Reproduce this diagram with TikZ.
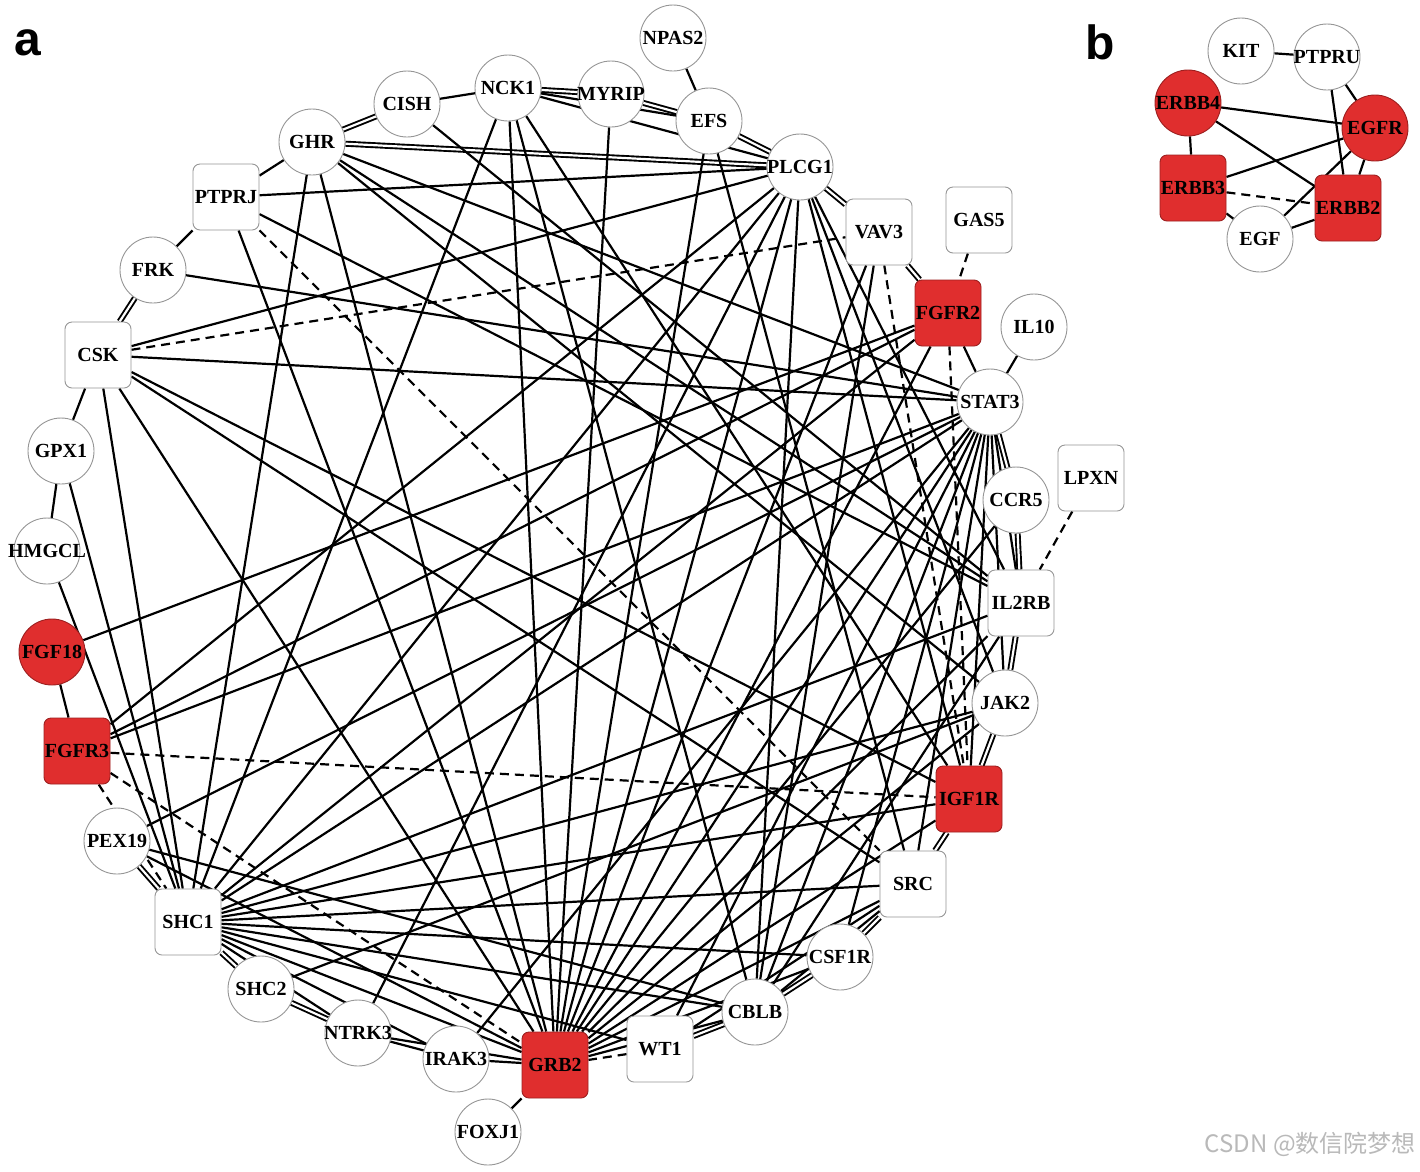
\documentclass[tikz,border=0pt]{standalone}
\usepackage{fontspec}
\setmainfont{Liberation Serif}
\newfontfamily\labfont{Liberation Sans}
\newfontfamily\cjkfont{Noto Sans CJK SC}
\usetikzlibrary{backgrounds}
\pgfdeclarelayer{paper}
\pgfdeclarelayer{edges}
\pgfsetlayers{paper,edges,main}
\definecolor{nodered}{RGB}{224,46,46}
\definecolor{nodeedge}{RGB}{150,150,150}
\newcommand\glab[1]{\hbox to 0pt{\hss#1\hss}}
\tikzset{
  gene/.style={font=\bfseries\fontsize{20}{20}\selectfont, inner sep=0pt, minimum size=66pt, draw=nodeedge, line width=0.9pt, fill=white, text=black},
  circ/.style={gene, circle},
  box/.style={gene, rectangle, rounded corners=7pt},
  redc/.style={circ, fill=nodered, draw=nodered!70!black},
  redb/.style={box, fill=nodered, draw=nodered!70!black},
  e/.style={line width=2.2pt, black},
  de/.style={line width=2.2pt, black, dash pattern=on 9pt off 6pt},
  dbl/.style={line width=1.9pt, black, double=white, double distance=2.2pt},
  panel/.style={font=\labfont\bfseries\fontsize{48}{48}\selectfont, inner sep=0pt},
}
\begin{document}
\begin{tikzpicture}[x=1pt,y=-1pt]
\begin{pgfonlayer}{paper}
\fill[white] (0,0) rectangle (1420,1171);
\end{pgfonlayer}
\useasboundingbox (0,0) rectangle (1420,1171);
% panel a nodes
\node[circ] (NPAS2) at (673,38) {\glab{NPAS2}};
\node[circ] (NCK1) at (508,88) {\glab{NCK1}};
\node[circ] (MYRIP) at (611,94) {\glab{MYRIP}};
\node[circ] (CISH) at (407,104) {\glab{CISH}};
\node[circ] (EFS) at (709,121) {\glab{EFS}};
\node[circ] (GHR) at (312,142) {\glab{GHR}};
\node[circ] (PLCG1) at (800,167) {\glab{PLCG1}};
\node[box] (PTPRJ) at (226,197) {\glab{PTPRJ}};
\node[box] (VAV3) at (879,232) {\glab{VAV3}};
\node[box] (GAS5) at (979,220) {\glab{GAS5}};
\node[circ] (FRK) at (153,270) {\glab{FRK}};
\node[redb] (FGFR2) at (948,313) {\glab{FGFR2}};
\node[circ] (IL10) at (1034,327) {\glab{IL10}};
\node[box] (CSK) at (98,355) {\glab{CSK}};
\node[circ] (STAT3) at (990,402) {\glab{STAT3}};
\node[circ] (GPX1) at (61,451) {\glab{GPX1}};
\node[box] (LPXN) at (1091,478) {\glab{LPXN}};
\node[circ] (CCR5) at (1016,500) {\glab{CCR5}};
\node[circ] (HMGCL) at (47,551) {\glab{HMGCL}};
\node[box] (IL2RB) at (1021,603) {\glab{IL2RB}};
\node[redc] (FGF18) at (52,652) {\glab{FGF18}};
\node[circ] (JAK2) at (1005,703) {\glab{JAK2}};
\node[redb] (FGFR3) at (77,751) {\glab{FGFR3}};
\node[redb] (IGF1R) at (969,799) {\glab{IGF1R}};
\node[circ] (PEX19) at (117,841) {\glab{PEX19}};
\node[box] (SRC) at (913,884) {\glab{SRC}};
\node[box] (SHC1) at (188,922) {\glab{SHC1}};
\node[circ] (CSF1R) at (840,957) {\glab{CSF1R}};
\node[circ] (SHC2) at (261,989) {\glab{SHC2}};
\node[circ] (CBLB) at (755,1012) {\glab{CBLB}};
\node[circ] (NTRK3) at (358,1033) {\glab{NTRK3}};
\node[box] (WT1) at (660,1049) {\glab{WT1}};
\node[circ] (IRAK3) at (456,1059) {\glab{IRAK3}};
\node[redb] (GRB2) at (555,1065) {\glab{GRB2}};
\node[circ] (FOXJ1) at (488,1132) {\glab{FOXJ1}};
% panel b nodes
\node[circ] (KIT) at (1241,51) {\glab{KIT}};
\node[circ] (PTPRU) at (1327,57) {\glab{PTPRU}};
\node[redc] (ERBB4) at (1188,103) {\glab{ERBB4}};
\node[redc] (EGFR) at (1375,128) {\glab{EGFR}};
\node[redb] (ERBB3) at (1193,188) {\glab{ERBB3}};
\node[redb] (ERBB2) at (1348,208) {\glab{ERBB2}};
\node[circ] (EGF) at (1260,239) {\glab{EGF}};
% labels
\node[panel] (pa) at (28,43) {a};
\node[panel] (pb) at (1100,42) {b};
\node[text=gray!55, font=\cjkfont\fontsize{24}{24}\selectfont, anchor=east, inner sep=0pt] (wm) at (1416,1144) {CSDN @数信院梦想};
\begin{pgfonlayer}{edges}
% double edges
\foreach \a/\b in {GHR/CISH, NCK1/MYRIP, MYRIP/EFS, EFS/PLCG1, PLCG1/VAV3, VAV3/FGFR2,
  STAT3/CCR5, CCR5/IL2RB, IL2RB/JAK2, JAK2/IGF1R, IGF1R/SRC, SRC/CSF1R, CSF1R/CBLB,
  CBLB/WT1, NTRK3/SHC2, SHC2/SHC1, SHC1/PEX19, CSK/FRK, GHR/PLCG1}
  \draw[dbl] (\a) -- (\b);
% dashed edges
\foreach \a/\b in {GAS5/FGFR2, LPXN/IL2RB, WT1/GRB2, FGFR3/SHC1, PTPRJ/SRC, CSK/VAV3,
  VAV3/IGF1R, FGFR2/IGF1R, FGFR3/IGF1R, FGFR3/GRB2, ERBB3/ERBB2}
  \draw[de] (\a) -- (\b);
% solid edges
\foreach \a/\b in {NPAS2/EFS, CISH/NCK1, NCK1/EFS, NCK1/PLCG1, FGFR2/STAT3, IL10/STAT3,
  STAT3/JAK2, SRC/CBLB, GRB2/FOXJ1, GRB2/IRAK3, IRAK3/NTRK3, FGFR3/FGF18, GPX1/HMGCL,
  GPX1/CSK, FRK/PTPRJ, PTPRJ/GHR,
  GHR/STAT3, GHR/IL2RB, GHR/JAK2, GHR/SHC1, GHR/GRB2,
  PTPRJ/PLCG1, PTPRJ/IL2RB, PTPRJ/GRB2, FRK/STAT3,
  CSK/PLCG1, CSK/STAT3, CSK/IGF1R, CSK/SRC, CSK/GRB2, CSK/SHC1,
  GPX1/SHC1, HMGCL/SHC1,
  NCK1/SHC1, NCK1/GRB2, NCK1/CBLB, NCK1/IGF1R, CISH/IL2RB, MYRIP/GRB2, EFS/GRB2, EFS/SRC,
  PLCG1/FGFR3, PLCG1/SHC1, PLCG1/GRB2, PLCG1/NTRK3, PLCG1/CBLB, PLCG1/IGF1R, PLCG1/JAK2, PLCG1/IL2RB,
  VAV3/GRB2, VAV3/CBLB,
  FGFR2/FGFR3, FGFR2/FGF18, FGFR2/GRB2, FGFR2/SHC1,
  STAT3/FGFR3, STAT3/SHC1, STAT3/PEX19, STAT3/GRB2, STAT3/IRAK3, STAT3/CBLB, STAT3/CSF1R,
  STAT3/SRC, STAT3/IGF1R, STAT3/IL2RB, STAT3/WT1,
  IGF1R/SHC1, IGF1R/GRB2, JAK2/SHC1, JAK2/SHC2, JAK2/GRB2,
  IL2RB/SHC1, IL2RB/GRB2, IL2RB/CBLB, CCR5/GRB2,
  SRC/SHC1, SRC/GRB2, SRC/WT1, CSF1R/SHC1, CSF1R/GRB2,
  CBLB/GRB2, CBLB/SHC1, CBLB/PEX19, WT1/SHC1,
  GRB2/SHC1, GRB2/PEX19, GRB2/NTRK3, SHC1/NTRK3, SHC1/IRAK3,
  KIT/PTPRU, PTPRU/EGFR, PTPRU/ERBB2, ERBB4/EGFR, ERBB4/ERBB3, ERBB4/ERBB2,
  ERBB3/EGFR, ERBB3/EGF, EGF/EGFR, EGF/ERBB2, EGFR/ERBB2}
  \draw[e] (\a) -- (\b);
\end{pgfonlayer}
\end{tikzpicture}
\end{document}
